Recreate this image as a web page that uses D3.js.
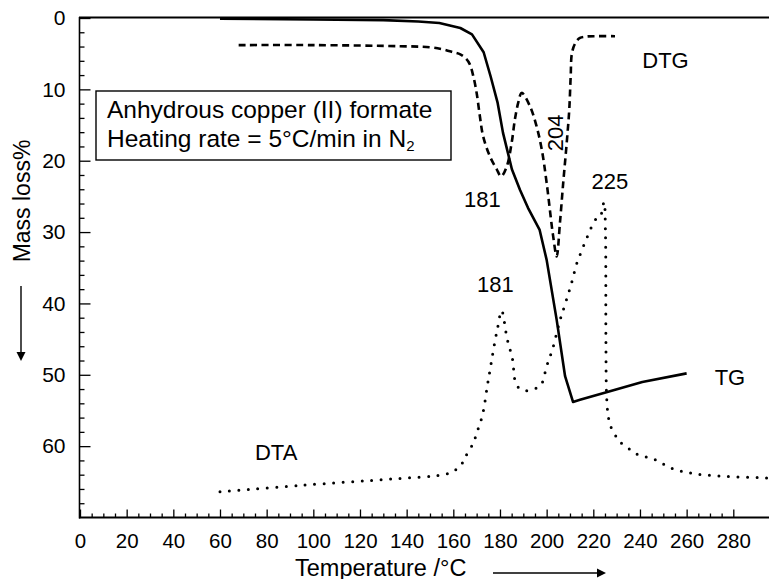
<!DOCTYPE html>
<html>
<head>
<meta charset="utf-8">
<script src="https://cdn.jsdelivr.net/npm/d3@7"></script>
<style>
  html, body { margin: 0; padding: 0; background: #fff; }
  svg { display: block; }
  text { font-family: "Liberation Sans", Arial, Helvetica, sans-serif; fill: #000; }
</style>
</head>
<body>
<svg id="chart" width="769" height="579"></svg>
<script>
// ---------- data ----------
const xTicks = [0, 20, 40, 60, 80, 100, 120, 140, 160, 180, 200, 220, 240, 260, 280];
const yTicks = [0, 10, 20, 30, 40, 50, 60];

// TG (solid) : temperature (°C) -> mass loss %
const tgTemp = [60, 100, 130, 145, 154, 163, 168, 173, 176, 179, 181.3, 183.4, 185.1, 188.6, 192, 197, 200, 204.3, 207.9, 211.3, 214.3, 226, 241, 260];
const tgMass = [0.1, 0.2, 0.3, 0.5, 0.7, 1.4, 2.3, 4.8, 8.2, 11.9, 16.1, 18.9, 21.2, 24.1, 26.6, 29.7, 33.9, 42.3, 50.2, 53.8, 53.5, 52.4, 51.0, 49.8];

// DTG (dashed)
const dtgTemp = [68, 100, 137, 150, 155.7, 160, 163, 165.5, 167.1, 168.6, 170, 171.4, 172.8, 175.7, 178.6, 180.5, 182.9, 185, 186.4, 187.8, 189.3, 192.9, 195.7, 197.9, 200, 202.8, 204.3, 205.7, 207.1, 208.6, 209.7, 210.3, 210.9, 212.5, 214.3, 217, 221.4, 229.3];
const dtgVal  = [3.8, 3.8, 3.95, 4.1, 4.4, 4.8, 5.1, 5.7, 6.5, 8.2, 10.5, 13.8, 16.6, 19.4, 21.2, 22.2, 20.8, 17.5, 14.2, 11.9, 10.5, 12.4, 15.2, 18.4, 23.1, 30.6, 33.4, 28.7, 23.1, 17.5, 12.8, 8.2, 4.8, 3.4, 2.8, 2.6, 2.55, 2.55];

// DTA (dotted)
const dtaTemp = [60, 94, 134, 155.6, 159.4, 163, 165, 168.6, 170, 172.6, 174.6, 176, 177.4, 179, 180.7, 183.1, 185.3, 187.2, 190.7, 194.6, 197.6, 200, 202.6, 205.7, 208.3, 210.7, 212.9, 214.3, 217.4, 221.1, 222.9, 224.6, 225.2, 225.4, 225.7, 226.4, 227.4, 229.3, 231.4, 235, 238.6, 246.4, 253.6, 262.2, 274.3, 290.7, 295];
const dtaVal  = [66.4, 65.5, 64.6, 64.0, 63.6, 62.8, 61.6, 59.5, 58.2, 55.5, 51.5, 48.8, 46.1, 43.4, 41.0, 45.0, 47.7, 51.5, 52.2, 52.0, 51.4, 48.8, 46.3, 42.4, 39.7, 37.1, 34.4, 33.2, 30.7, 28.2, 27.9, 25.8, 30, 45, 53.0, 55.8, 57.2, 58.4, 59.4, 60.3, 61.1, 61.9, 63.1, 63.8, 64.2, 64.4, 64.5];

// annotations
const peakLabels = [
  {text: "181", t: 172.5, v: 26.45},
  {text: "225", t: 227.1, v: 24.0},
  {text: "181", t: 178, v: 38.35}
];
const seriesLabels = [
  {text: "DTG", t: 241, v: 7.0},
  {text: "TG",  t: 272, v: 51.4},
  {text: "DTA", t: 75,  v: 61.9}
];
const legendLines = ["Anhydrous copper (II) formate", "Heating rate = 5°C/min in N"];

// ---------- layout ----------
const svg = d3.select("#chart");
const x = d3.scaleLinear().domain([0, 295.3]).range([80, 769]);
const y = d3.scaleLinear().domain([0, 70]).range([18, 517.5]);

// frame lines
svg.append("line").attr("x1", 79.5).attr("x2", 79.5).attr("y1", y(0) - 1).attr("y2", y(70) + 1)
  .attr("stroke", "#000").attr("stroke-width", 1.6);
svg.append("line").attr("x1", 79).attr("x2", 769).attr("y1", y(0) - 0.5).attr("y2", y(0) - 0.5)
  .attr("stroke", "#000").attr("stroke-width", 2);
svg.append("line").attr("x1", 79).attr("x2", 769).attr("y1", y(70)).attr("y2", y(70))
  .attr("stroke", "#000").attr("stroke-width", 2);

// Y axis
const yAxisG = svg.append("g").attr("transform", "translate(79.5,0)");
yAxisG.call(d3.axisLeft(y).tickValues(yTicks).tickSize(-11).tickPadding(14).tickFormat(d3.format("d")));
const yMinor = svg.append("g").attr("transform", "translate(79.5,0)");
yMinor.call(d3.axisLeft(y).tickValues(d3.range(2, 70, 2).filter(v => v % 10 !== 0)).tickSize(-5).tickFormat(""));

// X axis
const xAxisG = svg.append("g").attr("transform", `translate(0,${y(70)})`);
xAxisG.call(d3.axisBottom(x).tickValues(xTicks).tickSize(-8).tickPadding(15.5).tickFormat(d3.format("d")));
const xMinor = svg.append("g").attr("transform", `translate(0,${y(70)})`);
xMinor.call(d3.axisBottom(x).tickValues(d3.range(5, 285, 5).filter(v => v % 20 !== 0)).tickSize(-4).tickFormat(""));

[yAxisG, yMinor, xAxisG, xMinor].forEach(g => {
  g.select(".domain").remove();
  g.selectAll(".tick line").attr("stroke", "#000").attr("stroke-width", 1.3);
  g.selectAll(".tick text").attr("font-size", 21).attr("font-family", '"Liberation Sans", Arial, sans-serif').attr("fill", "#000");
});
xAxisG.selectAll(".tick text").attr("font-size", 20.5);

// axis titles
svg.append("text").attr("transform", "translate(30,201) rotate(-90)")
  .attr("text-anchor", "middle").attr("font-size", 23).text("Mass loss%");
svg.append("text").attr("x", 295).attr("y", 575.5).attr("font-size", 23.5).text("Temperature /°C");

// arrows
svg.append("line").attr("x1", 21).attr("x2", 21).attr("y1", 286).attr("y2", 354)
  .attr("stroke", "#000").attr("stroke-width", 1.4);
svg.append("path").attr("d", "M16.5,352 L25.5,352 L21,361 Z").attr("fill", "#000");
svg.append("line").attr("x1", 493).attr("x2", 599).attr("y1", 573).attr("y2", 573)
  .attr("stroke", "#000").attr("stroke-width", 1.4);
svg.append("path").attr("d", "M597,568.5 L597,577.5 L606,573 Z").attr("fill", "#000");

// ---------- curves ----------
const lineGen = (curve) => d3.line().x(d => x(d[0])).y(d => y(d[1])).curve(curve);

svg.append("path")
  .datum(d3.zip(dtaTemp, dtaVal))
  .attr("d", lineGen(d3.curveCatmullRom.alpha(0.5)))
  .attr("fill", "none").attr("stroke", "#000").attr("stroke-width", 3)
  .attr("stroke-linecap", "round").attr("stroke-dasharray", "0,9.5");

svg.append("path")
  .datum(d3.zip(dtgTemp, dtgVal))
  .attr("d", lineGen(d3.curveCatmullRom.alpha(0.5)))
  .attr("fill", "none").attr("stroke", "#000").attr("stroke-width", 2.6)
  .attr("stroke-dasharray", "7,4.5");

svg.append("path")
  .datum(d3.zip(tgTemp, tgMass))
  .attr("d", lineGen(d3.curveLinear))
  .attr("fill", "none").attr("stroke", "#000").attr("stroke-width", 2.6)
  .attr("stroke-linejoin", "round");

// ---------- annotations ----------
svg.selectAll("text.peak").data(peakLabels).enter().append("text")
  .attr("class", "peak")
  .attr("x", d => x(d.t)).attr("y", d => y(d.v))
  .attr("text-anchor", "middle").attr("font-size", 22).text(d => d.text);

svg.append("text").attr("transform", `translate(${x(207.2)},${y(16.1)}) rotate(-90)`)
  .attr("text-anchor", "middle").attr("font-size", 22).text("204");

svg.selectAll("text.series").data(seriesLabels).enter().append("text")
  .attr("class", "series")
  .attr("x", d => x(d.t)).attr("y", d => y(d.v))
  .attr("font-size", 22).text(d => d.text);

// legend box
svg.append("rect").attr("x", 96).attr("y", 91).attr("width", 355).attr("height", 69)
  .attr("fill", "#fff").attr("stroke", "#000").attr("stroke-width", 1.4);
svg.append("text").attr("x", 107).attr("y", 118).attr("font-size", 24.5).text(legendLines[0]);
const l2 = svg.append("text").attr("x", 107).attr("y", 147).attr("font-size", 24.5).text(legendLines[1]);
l2.append("tspan").attr("font-size", 15).attr("dy", 4).text("2");
</script>
</body>
</html>
